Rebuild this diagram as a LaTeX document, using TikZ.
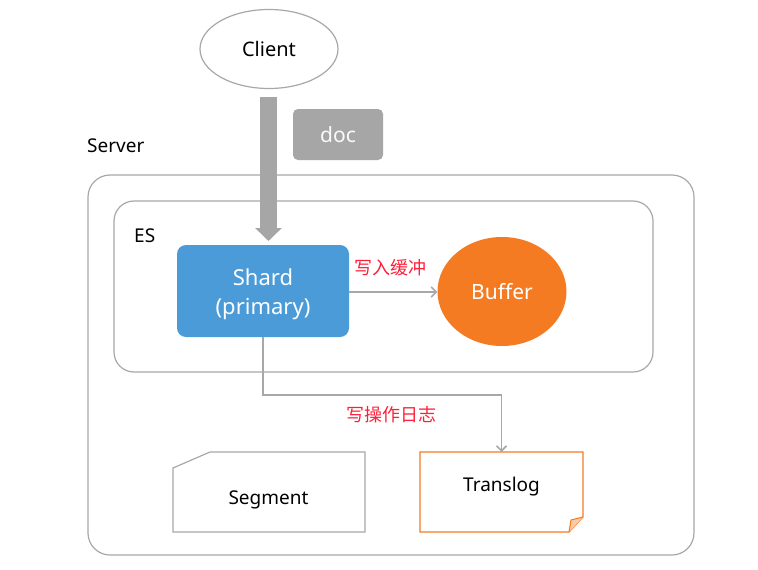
\documentclass[tikz,border=0pt]{standalone}
\usepackage{fontspec}
\setmainfont{Noto Sans}
\newfontfamily\cjk{Noto Sans CJK SC}
\usetikzlibrary{arrows.meta,shapes.geometric}
\definecolor{lgray}{HTML}{A8A8A8}
\definecolor{bgray}{HTML}{A6A6A6}
\definecolor{sblue}{HTML}{4B9BD9}
\definecolor{borange}{HTML}{F57B22}
\definecolor{tred}{HTML}{FF1F3A}
\tikzset{
  x=1pt,y=-1pt,
  box/.style={draw=lgray,line width=1.2pt,rounded corners=20pt},
  conn/.style={draw=lgray,line width=1.6pt,-{Straight Barb[length=5pt,width=10pt]}},
  redlbl/.style={text=tred,font=\cjk\fontsize{18}{20}\selectfont,inner sep=0pt},
  lbl/.style={inner sep=0pt,font=\fontsize{19}{22}\selectfont}
}
\begin{document}
\begin{tikzpicture}
\useasboundingbox[fill=white] (0,0) rectangle (758,570);
% containers
\draw[box,rounded corners=22pt] (88,175) rectangle (694,555);
\draw[box] (114,201) rectangle (653,372);
\node[lbl,anchor=west] (server) at (87,146) {Server};
\node[lbl,anchor=west] (es) at (134,236) {ES};
% client
\node[draw=lgray,line width=1.2pt,ellipse,minimum width=138pt,minimum height=79pt,inner sep=0pt,font=\fontsize{20}{24}\selectfont] (client) at (269,49) {Client};
% doc
\node[fill=bgray,rounded corners=5pt,minimum width=90pt,minimum height=51pt,inner sep=0pt,text=white!96!gray,font=\fontsize{21}{24}\selectfont] (doc) at (338,134.5) {doc};
% shard
\node[fill=sblue,rounded corners=9pt,minimum width=172pt,minimum height=92pt,inner sep=0pt] (shard) at (263,291) {};
\node[inner sep=0pt,text=white,align=center,font=\fontsize{22}{29}\selectfont] (shardtext) at (263,294) {Shard\\(primary)};
% buffer
\node[fill=borange,ellipse,minimum width=129pt,minimum height=109pt,inner sep=0pt,text=white,font=\fontsize{21}{24}\selectfont] (buffer) at (502,291.5) {Buffer};
% thick arrow
\coordinate (ta) at (268.5,97);
\coordinate (tb) at (268.5,241);
\draw[bgray,line width=17pt,-{Triangle[width=26pt,length=13pt]}] (ta) -- (tb);
% shard -> buffer
\draw[conn] (shard.east |- 0,292) -- (buffer.west |- 0,292);
\node[redlbl] (l1) at (390,268) {写入缓冲};
% segment
\draw[lgray,line width=1.2pt] (173,468) -- (210,452) -- (365,452) -- (365,532) -- (173,532) -- cycle;
\node[lbl] (segment) at (268.5,500) {Segment};
% translog
\draw[borange,line width=1.2pt] (420,452) -- (583,452) -- (583,517) -- (569,532) -- (420,532) -- cycle;
\draw[borange,line width=1pt,fill=borange!40] (583,517) -- (571,520) -- (569,532);
\node[lbl] (translog) at (501.5,487) {Translog};
\coordinate (tltop) at (501.5,452);
% shard -> translog
\coordinate (sb) at (263,337);
\draw[conn] (sb) -- (263,395) -| (tltop);
\node[redlbl] (l2) at (391,415) {写操作日志};
\end{tikzpicture}
\end{document}
